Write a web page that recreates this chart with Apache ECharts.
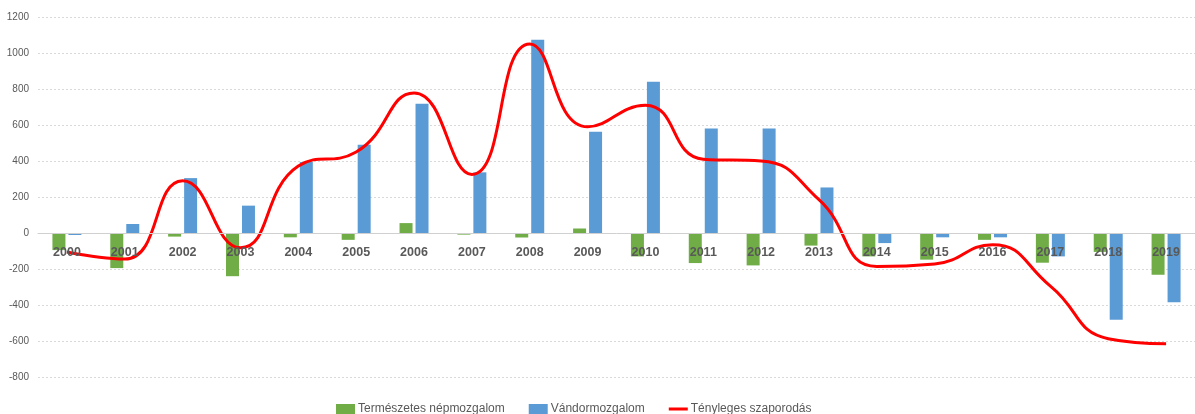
<!DOCTYPE html>
<html>
<head>
<meta charset="utf-8">
<script src="https://cdn.jsdelivr.net/npm/echarts@6/dist/echarts.min.js"></script>
<style>
  html, body { margin: 0; padding: 0; background: #fff; }
  #chart { width: 1195px; height: 414px; }
</style>
</head>
<body>
<div id="chart"></div>
<script>
// évek
var years = ['2000', '2001', '2002', '2003', '2004', '2005', '2006', '2007', '2008', '2009',
             '2010', '2011', '2012', '2013', '2014', '2015', '2016', '2017', '2018', '2019'];
// Természetes népmozgalom
var natural = [-95, -195, -20, -240, -24, -38, 55, -9, -25, 25,
               -130, -167, -180, -70, -130, -148, -38, -165, -105, -232];
// Vándormozgalom
var migration = [-11, 50, 305, 152, 395, 490, 718, 337, 1074, 563,
                 840, 580, 580, 253, -56, -24, -24, -130, -482, -385];
// Tényleges szaporodás
var actual = [-106, -145, 290, -82, 372, 450, 778, 325, 1050, 590,
              710, 410, 400, 185, -186, -172, -65, -295, -587, -615];

var font = '"Liberation Sans", Arial, sans-serif';
// vonal ikon a jelmagyarázathoz (láthatatlan sarokpontokkal, hogy ne nyúljon meg)
var lineIcon = 'path://M0,0L0.01,0L0,0Z M0,3.5L19,3.5L19,6.5L0,6.5Z M0,10L0.01,10L0,10Z';

var chart = echarts.init(document.getElementById('chart'));

chart.setOption({
    animation: false,
    textStyle: { fontFamily: font },
    grid: { left: 38, right: -12, top: 17, bottom: 37 },
    legend: {
        left: 331,
        top: 398,
        itemWidth: 19,
        itemHeight: 10,
        itemGap: 24,
        textStyle: { color: '#595959', fontSize: 12, fontFamily: font, padding: [0, 0, 0, -2] },
        data: [
            { name: 'Természetes népmozgalom', icon: 'rect' },
            { name: 'Vándormozgalom', icon: 'rect' },
            { name: 'Tényleges szaporodás', icon: lineIcon }
        ]
    },
    xAxis: {
        type: 'category',
        data: years,
        z: 10,
        offset: -144,
        axisLine: { onZero: false, lineStyle: { color: '#d0d0d0', width: 1 } },
        axisTick: { show: false },
        axisLabel: { color: '#595959', fontWeight: 'bold', fontSize: 12.5, fontFamily: font, margin: 13 }
    },
    yAxis: {
        type: 'value',
        min: -800,
        max: 1200,
        interval: 200,
        axisLine: { show: false },
        axisTick: { show: false },
        axisLabel: {
            color: '#595959', fontSize: 10, fontFamily: font, margin: 9,
            formatter: function (v) { return String(v); }
        },
        splitLine: { lineStyle: { color: '#d9d9d9', type: [2, 2], width: 1 } }
    },
    series: [
        {
            name: 'Természetes népmozgalom',
            type: 'bar',
            data: natural,
            barWidth: 13,
            barGap: '23%',
            itemStyle: { color: '#70AD47' }
        },
        {
            name: 'Vándormozgalom',
            type: 'bar',
            data: migration,
            barWidth: 13,
            barGap: '23%',
            itemStyle: { color: '#5B9BD5' }
        },
        {
            name: 'Tényleges szaporodás',
            type: 'line',
            data: actual,
            smooth: 0.5,
            symbol: 'none',
            z: 5,
            lineStyle: { color: '#FF0000', width: 3 },
            itemStyle: { color: '#FF0000' }
        }
    ]
});
</script>
</body>
</html>
